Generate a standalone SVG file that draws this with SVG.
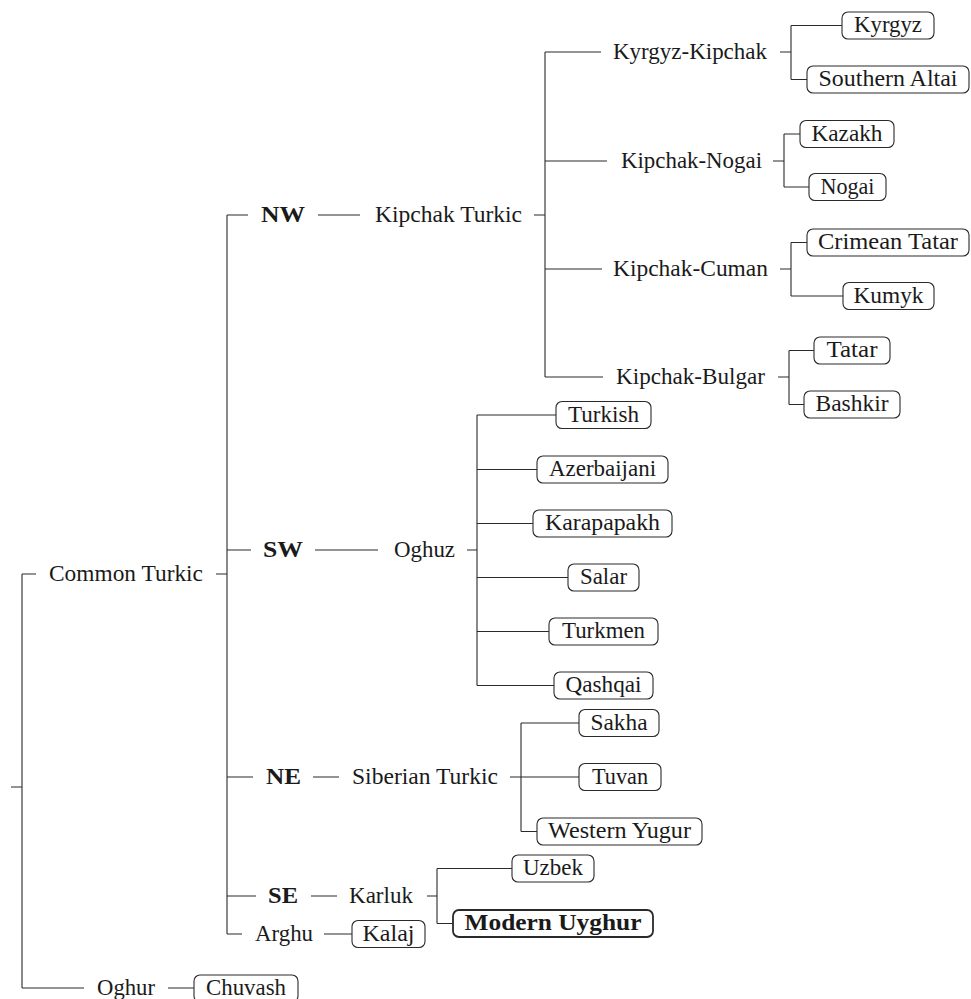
<svg xmlns="http://www.w3.org/2000/svg" width="971" height="999" viewBox="0 0 971 999">
<style>
text{font-family:"Liberation Serif","Times New Roman",serif;font-size:22.2px;fill:#1a1a1a}
.b{font-weight:bold}
.m{text-anchor:middle}
.box{fill:#fff;stroke:#2a2a2a;stroke-width:1.1}
.bb{stroke-width:1.8}
.e{fill:none;stroke:#2a2a2a;stroke-width:1.1}
</style>
<rect width="971" height="999" fill="#fff"/>
<g id="connectors" class="e">
<path d="M11,787H22M22,574V988M22,574H36M22,988H84"/>
<path d="M216,574H227M227,215V934M227,215H248M227,550H251M227,777H253M227,896H256M227,934H242"/>
<path d="M318,215H360M534,215H545M545,52V377M545,52H601M545,161H607M545,269H602M545,377H603"/>
<path d="M780,52H791M791,25.5V79.5M791,25.5H842M791,79.5H807"/>
<path d="M773,161H784M784,134V187M784,134H800M784,187H809"/>
<path d="M780,269H791M791,242.5V296M791,242.5H807M791,296H843"/>
<path d="M778,377H789M789,350.5V404.5M789,350.5H814M789,404.5H804"/>
<path d="M315,550H378M467,550H477M477,415V685.5M477,415H556M477,469.5H537M477,523.5H533M477,577.5H568M477,631.5H549M477,685.5H554"/>
<path d="M313,777H339M510,777H579M521,723V831.5M521,723H579M521,831.5H537"/>
<path d="M311,896H337M427,896H437M437,868.5V923.5M437,868.5H512M437,923.5H453"/>
<path d="M324,934H352M168,988H194"/>
</g>
<g id="n-common-turkic"><text x="49" y="581" textLength="154" lengthAdjust="spacingAndGlyphs">Common Turkic</text></g>
<g id="n-nw"><text class="b" x="261" y="222" textLength="44" lengthAdjust="spacingAndGlyphs">NW</text></g>
<g id="n-kipchak-turkic"><text x="375" y="222" textLength="147" lengthAdjust="spacingAndGlyphs">Kipchak Turkic</text></g>
<g id="n-kyrgyz-kipchak"><text x="613" y="59" textLength="154" lengthAdjust="spacingAndGlyphs">Kyrgyz-Kipchak</text></g>
<g id="n-kipchak-nogai"><text x="621" y="168" textLength="141" lengthAdjust="spacingAndGlyphs">Kipchak-Nogai</text></g>
<g id="n-kipchak-cuman"><text x="613" y="276" textLength="155" lengthAdjust="spacingAndGlyphs">Kipchak-Cuman</text></g>
<g id="n-kipchak-bulgar"><text x="616" y="384" textLength="149" lengthAdjust="spacingAndGlyphs">Kipchak-Bulgar</text></g>
<g id="n-kyrgyz"><rect class="box" x="842" y="12" width="92" height="27" rx="6"/><text class="m" x="888" y="32" textLength="68" lengthAdjust="spacingAndGlyphs">Kyrgyz</text></g>
<g id="n-southern-altai"><rect class="box" x="807" y="66" width="162" height="27" rx="6"/><text class="m" x="888" y="86" textLength="139" lengthAdjust="spacingAndGlyphs">Southern Altai</text></g>
<g id="n-kazakh"><rect class="box" x="800" y="120.5" width="94" height="27" rx="6"/><text class="m" x="847" y="140.5" textLength="71" lengthAdjust="spacingAndGlyphs">Kazakh</text></g>
<g id="n-nogai"><rect class="box" x="809" y="173.5" width="77" height="27" rx="6"/><text class="m" x="847.5" y="193.5" textLength="54" lengthAdjust="spacingAndGlyphs">Nogai</text></g>
<g id="n-crimean-tatar"><rect class="box" x="807" y="229" width="162" height="27" rx="6"/><text class="m" x="888" y="249" textLength="140" lengthAdjust="spacingAndGlyphs">Crimean Tatar</text></g>
<g id="n-kumyk"><rect class="box" x="843" y="282.5" width="91" height="27" rx="6"/><text class="m" x="888.5" y="302.5" textLength="70" lengthAdjust="spacingAndGlyphs">Kumyk</text></g>
<g id="n-tatar"><rect class="box" x="814" y="337" width="76" height="27" rx="6"/><text class="m" x="852" y="357" textLength="51" lengthAdjust="spacingAndGlyphs">Tatar</text></g>
<g id="n-bashkir"><rect class="box" x="804" y="391" width="96" height="27" rx="6"/><text class="m" x="852" y="411" textLength="73" lengthAdjust="spacingAndGlyphs">Bashkir</text></g>
<g id="n-sw"><text class="b" x="263" y="557" textLength="40" lengthAdjust="spacingAndGlyphs">SW</text></g>
<g id="n-oghuz"><text x="394" y="557" textLength="61" lengthAdjust="spacingAndGlyphs">Oghuz</text></g>
<g id="n-turkish"><rect class="box" x="556" y="401.5" width="95" height="27" rx="6"/><text class="m" x="603.5" y="421.5" textLength="71" lengthAdjust="spacingAndGlyphs">Turkish</text></g>
<g id="n-azerbaijani"><rect class="box" x="537" y="456" width="131" height="27" rx="6"/><text class="m" x="602.5" y="476" textLength="107" lengthAdjust="spacingAndGlyphs">Azerbaijani</text></g>
<g id="n-karapapakh"><rect class="box" x="533" y="510" width="139" height="27" rx="6"/><text class="m" x="602.5" y="530" textLength="115" lengthAdjust="spacingAndGlyphs">Karapapakh</text></g>
<g id="n-salar"><rect class="box" x="568" y="564" width="71" height="27" rx="6"/><text class="m" x="603.5" y="584" textLength="47" lengthAdjust="spacingAndGlyphs">Salar</text></g>
<g id="n-turkmen"><rect class="box" x="549" y="618" width="109" height="27" rx="6"/><text class="m" x="603.5" y="638" textLength="83" lengthAdjust="spacingAndGlyphs">Turkmen</text></g>
<g id="n-qashqai"><rect class="box" x="554" y="672" width="99" height="27" rx="6"/><text class="m" x="603.5" y="692" textLength="76" lengthAdjust="spacingAndGlyphs">Qashqai</text></g>
<g id="n-ne"><text class="b" x="266" y="784" textLength="35" lengthAdjust="spacingAndGlyphs">NE</text></g>
<g id="n-siberian-turkic"><text x="352" y="784" textLength="146" lengthAdjust="spacingAndGlyphs">Siberian Turkic</text></g>
<g id="n-sakha"><rect class="box" x="579" y="709.5" width="80" height="27" rx="6"/><text class="m" x="619" y="729.5" textLength="57" lengthAdjust="spacingAndGlyphs">Sakha</text></g>
<g id="n-tuvan"><rect class="box" x="579" y="763.5" width="82" height="27" rx="6"/><text class="m" x="620" y="783.5" textLength="56" lengthAdjust="spacingAndGlyphs">Tuvan</text></g>
<g id="n-western-yugur"><rect class="box" x="537" y="818" width="165" height="27" rx="6"/><text class="m" x="619.5" y="838" textLength="143" lengthAdjust="spacingAndGlyphs">Western Yugur</text></g>
<g id="n-se"><text class="b" x="268" y="903" textLength="30" lengthAdjust="spacingAndGlyphs">SE</text></g>
<g id="n-karluk"><text x="349" y="903" textLength="64" lengthAdjust="spacingAndGlyphs">Karluk</text></g>
<g id="n-uzbek"><rect class="box" x="512" y="855" width="82" height="27" rx="6"/><text class="m" x="553" y="875" textLength="60" lengthAdjust="spacingAndGlyphs">Uzbek</text></g>
<g id="n-modern-uyghur"><rect class="box bb" x="453" y="910" width="200" height="27" rx="6"/><text class="m b" x="553" y="930" textLength="177" lengthAdjust="spacingAndGlyphs">Modern Uyghur</text></g>
<g id="n-arghu"><text x="255" y="941" textLength="58" lengthAdjust="spacingAndGlyphs">Arghu</text></g>
<g id="n-kalaj"><rect class="box" x="352" y="920.5" width="73" height="27" rx="6"/><text class="m" x="388.5" y="940.5" textLength="52" lengthAdjust="spacingAndGlyphs">Kalaj</text></g>
<g id="n-oghur"><text x="97" y="995" textLength="58" lengthAdjust="spacingAndGlyphs">Oghur</text></g>
<g id="n-chuvash"><rect class="box" x="194" y="975" width="104" height="27" rx="6"/><text class="m" x="246" y="995" textLength="80" lengthAdjust="spacingAndGlyphs">Chuvash</text></g>
</svg>
